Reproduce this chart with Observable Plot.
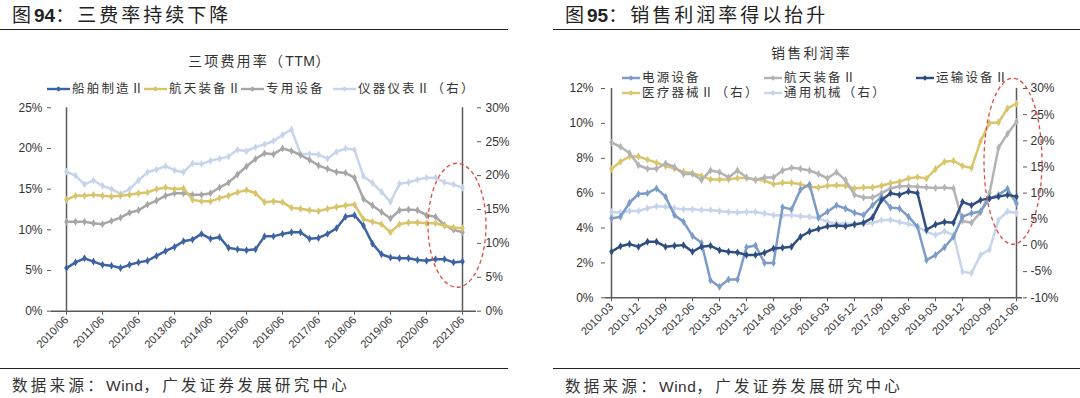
<!DOCTYPE html>
<html><head><meta charset="utf-8">
<script src="https://cdn.jsdelivr.net/npm/d3@7"></script>
<script src="https://cdn.jsdelivr.net/npm/@observablehq/plot@0.6"></script>
<style>
html,body{margin:0;padding:0;background:#fff}
body{width:1080px;height:398px;overflow:hidden;position:relative;font-family:"Noto Sans CJK SC","Liberation Sans",sans-serif;color:#222}
.abs{position:absolute;white-space:nowrap}
.title{font-size:19px;letter-spacing:3px;line-height:20px}
.title b{font-family:"Liberation Sans",Arial,sans-serif;font-weight:bold;letter-spacing:0}
.rule{position:absolute;height:0;border-top:1.4px solid #222}
.ctitle{font-size:14px;letter-spacing:2.2px;color:#333;line-height:16px}
.ctitle span{font-family:"Liberation Sans",Arial,sans-serif;letter-spacing:0.5px}
.leg{font-family:"Liberation Sans","Noto Sans CJK SC",sans-serif;font-size:12.5px;letter-spacing:2.2px;color:#333;line-height:13px;display:flex;align-items:center}
.leg svg{margin-right:2px}
.src{font-size:15.5px;letter-spacing:3.3px;color:#333;line-height:18px}
.src span{font-family:"Liberation Sans",Arial,sans-serif;letter-spacing:0.5px}
svg.plot{position:absolute;overflow:visible}
</style></head><body>
<div id="root"></div>
<script>
// ---------- data: left chart (三项费用率 TTM) ----------
const quartersL = ["2010/06","2010/09","2010/12","2011/03","2011/06","2011/09","2011/12","2012/03","2012/06","2012/09","2012/12","2013/03","2013/06","2013/09","2013/12","2014/03","2014/06","2014/09","2014/12","2015/03","2015/06","2015/09","2015/12","2016/03","2016/06","2016/09","2016/12","2017/03","2017/06","2017/09","2017/12","2018/03","2018/06","2018/09","2018/12","2019/03","2019/06","2019/09","2019/12","2020/03","2020/06","2020/09","2020/12","2021/03","2021/06"];
const tickLabelsL = ["2010/06","2011/06","2012/06","2013/06","2014/06","2015/06","2016/06","2017/06","2018/06","2019/06","2020/06","2021/06"];
const shipbuilding = [5.3,6.0,6.5,6.1,5.7,5.6,5.3,5.7,6.0,6.2,6.8,7.4,7.9,8.6,8.8,9.5,8.9,9.1,7.8,7.6,7.5,7.6,9.2,9.2,9.5,9.7,9.7,8.9,9.0,9.5,10.2,11.6,11.8,10.5,8.3,7.0,6.6,6.5,6.5,6.3,6.2,6.4,6.4,6.0,6.1];
const aerospaceL = [13.7,14.2,14.2,14.3,14.2,14.1,14.2,14.3,14.5,14.6,15.0,15.2,15.0,15.1,13.7,13.5,13.5,13.9,14.2,14.6,14.9,14.5,13.4,13.5,13.4,12.7,12.6,12.4,12.3,12.6,12.8,13.0,13.1,11.3,11.0,10.7,9.7,10.7,10.9,10.9,10.8,10.8,10.5,10.3,10.2];
const specialEquip = [11.0,11.0,11.0,10.8,10.7,11.1,11.5,12.1,12.4,13.1,13.6,14.2,14.5,14.5,14.3,14.3,14.5,15.2,15.8,16.8,17.8,18.7,19.4,19.3,20.0,19.7,19.2,18.6,17.9,17.5,17.1,17.0,16.4,13.8,13.0,12.2,11.4,12.4,12.5,12.4,11.8,11.6,10.6,10.0,9.7];
const instruments = [20.6,20.0,18.7,19.3,18.5,18.0,17.3,18.0,19.3,20.5,20.9,21.4,20.8,20.5,21.8,21.7,22.2,22.5,22.8,23.8,23.6,24.2,24.6,25.1,26.0,26.8,23.2,23.2,23.1,22.5,23.5,24.0,23.8,19.9,18.9,17.6,16.1,18.8,19.0,19.4,19.7,19.7,19.0,18.7,18.2]; // right axis
const leftTicksL = [0,5,10,15,20,25];
const rightTicksL = [0,5,10,15,20,25,30];

// ---------- data: right chart (销售利润率) ----------
const quartersR = ["2010-03","2010-06","2010-09","2010-12","2011-03","2011-06","2011-09","2011-12","2012-03","2012-06","2012-09","2012-12","2013-03","2013-06","2013-09","2013-12","2014-03","2014-06","2014-09","2014-12","2015-03","2015-06","2015-09","2015-12","2016-03","2016-06","2016-09","2016-12","2017-03","2017-06","2017-09","2017-12","2018-03","2018-06","2018-09","2018-12","2019-03","2019-06","2019-09","2019-12","2020-03","2020-06","2020-09","2020-12","2021-03","2021-06"];
const tickLabelsR = ["2010-03","2010-12","2011-09","2012-06","2013-03","2013-12","2014-09","2015-06","2016-03","2016-12","2017-09","2018-06","2019-03","2019-12","2020-09","2021-06"];
const powerEquip = [4.55,4.65,5.45,5.95,6.0,6.27,5.8,4.74,4.36,3.54,3.15,1.0,0.63,1.05,1.05,2.9,3.0,2.0,2.0,5.2,5.07,6.2,6.5,4.6,4.93,5.3,5.12,4.88,4.74,5.3,5.8,5.18,5.12,4.65,4.07,2.16,2.45,2.9,3.5,4.65,4.85,4.95,5.7,5.9,6.25,5.4];
const aerospaceR = [8.9,8.66,8.3,7.6,7.4,7.4,7.7,7.5,7.1,7.1,6.75,7.3,7.2,6.9,7.3,6.9,6.75,6.9,6.9,7.3,7.45,7.4,7.3,7.1,6.85,7.2,6.75,5.9,5.75,5.75,6.0,6.27,6.4,6.4,6.37,6.33,6.3,6.33,6.27,4.4,4.3,4.9,6.0,8.6,9.4,10.1];
const transportEquip = [2.64,2.96,3.08,2.93,3.21,3.21,2.93,2.98,3.02,2.64,2.93,2.98,2.73,2.64,2.6,2.45,2.45,2.58,2.83,2.87,2.93,3.5,3.8,3.95,4.1,4.15,4.1,4.2,4.3,4.6,5.6,6.0,5.9,6.1,6.0,3.9,4.2,4.35,4.3,5.5,5.3,5.6,5.7,5.8,5.9,5.8];
const medicalDevices = [14.6,16.0,17.0,17.0,16.4,15.8,15.2,14.7,14.1,13.8,13.3,12.6,12.6,12.6,12.9,12.9,12.6,12.4,11.7,12.0,12.0,11.7,11.2,11.1,11.4,11.5,11.4,10.9,11.1,11.1,11.4,11.9,12.2,12.8,13.1,12.8,14.6,16.0,16.2,15.2,14.8,19.9,23.4,23.5,26.2,27.1]; // right axis
const generalMachinery = [6.4,6.3,6.6,6.6,7.1,7.5,7.4,7.1,6.9,6.9,6.8,6.8,6.6,6.4,6.3,6.4,6.4,6.1,5.8,5.8,5.8,5.6,5.5,5.2,4.5,4.2,4.2,4.1,4.1,4.3,4.8,4.9,4.5,4.1,3.6,2.6,2.0,2.7,2.0,-5.0,-5.3,-1.8,-0.8,4.9,6.5,6.2]; // right axis
const leftTicksR = [0,2,4,6,8,10,12];
const rightTicksR = [-10,-5,0,5,10,15,20,25,30];

// ---------- helpers ----------
const root = document.getElementById("root");
function el(html){ const d=document.createElement("div"); d.innerHTML=html; const n=d.firstElementChild; root.appendChild(n); return n; }
function series(q, vals, name, conv){ return vals.map((v,i)=>({q:q[i], v: conv ? conv(v) : v, name})); }
function swatch(color, w){ return `<svg width="${w}" height="10"><line x1="0" y1="5" x2="${w}" y2="5" stroke="${color}" stroke-width="2.4"/><path d="M${w/2} 2.2 L${w/2+2.8} 5 L${w/2} 7.8 L${w/2-2.8} 5Z" fill="${color}"/></svg>`; }
function lineMarks(data, color){
  return [
    Plot.line(data, {x:"q", y:"v", stroke:color, strokeWidth:2.5, curve:"linear"}),
    Plot.dot(data, {x:"q", y:"v", fill:color, r:2.4, symbol:"diamond"})
  ];
}
const axisColor = "#5a5a5a";
const fontStyle = {fontFamily:"'Liberation Sans', Arial, sans-serif", fontSize:"12px", color:"#333", background:"transparent", overflow:"visible"};

// ---------- headers ----------
el(`<div class="abs title" style="left:12px;top:4px">图<b>94</b>：三费率持续下降</div>`);
el(`<div class="abs title" style="left:565px;top:4px">图<b>95</b>：销售利润率得以抬升</div>`);
el(`<div class="rule" style="left:0;top:28.5px;width:508px"></div>`);
el(`<div class="rule" style="left:553px;top:28.5px;width:527px"></div>`);
el(`<div class="rule" style="left:0;top:367.5px;width:508px"></div>`);
el(`<div class="rule" style="left:553px;top:367.5px;width:527px"></div>`);
el(`<div class="abs src" style="left:12px;top:375px">数据来源：<span>Wind</span>，广发证券发展研究中心</div>`);
el(`<div class="abs src" style="left:565px;top:376px">数据来源：<span>Wind</span>，广发证券发展研究中心</div>`);

// ---------- left chart ----------
const cL = {ship:"#3d63a3", aero:"#d8c46a", spec:"#a6a6a6", inst:"#c7d5ec"};
const toLeftL = v => v*25/30;
const chartL = Plot.plot({
  width:540, height:270,
  marginLeft:51, marginRight:64, marginTop:12.3, marginBottom:54.3,
  x:{type:"point", domain:quartersL, padding:0},
  y:{domain:[0,25]},
  style:fontStyle,
  marks:[
    Plot.axisY({ticks:leftTicksL, tickFormat:d=>d+"%", tickSize:4, tickPadding:5, label:null, stroke:axisColor}),
    Plot.axisY({anchor:"right", ticks:rightTicksL.map(toLeftL), tickFormat:d=>Math.round(d*30/25)+"%", tickSize:4, tickPadding:5, label:null, stroke:axisColor}),
    Plot.axisX({ticks:tickLabelsL, tickRotate:-45, tickSize:4, tickPadding:3, label:null, fontSize:11, stroke:axisColor}),
    Plot.ruleX([quartersL[0], quartersL[quartersL.length-1]], {stroke:axisColor, strokeWidth:1.5}),
    Plot.ruleY([0], {stroke:axisColor, strokeWidth:1.5}),
    ...lineMarks(series(quartersL, instruments, "仪器仪表Ⅱ（右）", toLeftL), cL.inst),
    ...lineMarks(series(quartersL, specialEquip, "专用设备"), cL.spec),
    ...lineMarks(series(quartersL, aerospaceL, "航天装备Ⅱ"), cL.aero),
    ...lineMarks(series(quartersL, shipbuilding, "船舶制造Ⅱ"), cL.ship)
  ]
});
chartL.classList.add("plot");
chartL.style.left="0px"; chartL.style.top="95px";
root.appendChild(chartL);
{
  const xs = chartL.scale("x"), ys = chartL.scale("y");
  d3.select(chartL).append("ellipse")
    .attr("cx", xs.apply(quartersL[quartersL.length-1]) - 5)
    .attr("cy", ys.apply(10.5))
    .attr("rx", 29).attr("ry", 62)
    .attr("fill","none").attr("stroke","#e04a40").attr("stroke-width",1.3).attr("stroke-dasharray","4,3");
}
el(`<div class="abs ctitle" style="left:188px;top:52px">三项费用率（<span>TTM</span>）</div>`);
const legL = [["船舶制造Ⅱ",cL.ship,47],["航天装备Ⅱ",cL.aero,144],["专用设备",cL.spec,241],["仪器仪表Ⅱ（右）",cL.inst,333]];
legL.forEach(([t,c,x])=>el(`<div class="abs leg" style="left:${x}px;top:82.5px">${swatch(c,23)}${t}</div>`));

// ---------- right chart ----------
const cR = {power:"#7d9bc9", aero:"#b3b3b3", trans:"#2f4e80", med:"#dbc56c", gen:"#c6d5eb"};
const toLeftR = v => (v+10)*12/40;
const chartR = Plot.plot({
  width:540, height:290,
  marginLeft:65, marginRight:58, marginTop:18, marginBottom:62.7,
  x:{type:"point", domain:quartersR, padding:0},
  y:{domain:[0,12]},
  style:fontStyle,
  marks:[
    Plot.axisY({ticks:leftTicksR, tickFormat:d=>d+"%", tickSize:4, tickPadding:8, label:null, stroke:axisColor}),
    Plot.axisY({anchor:"right", ticks:rightTicksR.map(toLeftR), tickFormat:d=>Math.round(d*40/12-10)+"%", tickSize:4, tickPadding:4, label:null, stroke:axisColor}),
    Plot.axisX({ticks:tickLabelsR, tickRotate:-45, tickSize:4, tickPadding:3, label:null, fontSize:11, stroke:axisColor}),
    Plot.ruleX([quartersR[0], quartersR[quartersR.length-1]], {stroke:axisColor, strokeWidth:1.5}),
    Plot.ruleY([0], {stroke:axisColor, strokeWidth:1.5}),
    ...lineMarks(series(quartersR, generalMachinery, "通用机械（右）", toLeftR), cR.gen),
    ...lineMarks(series(quartersR, medicalDevices, "医疗器械Ⅱ（右）", toLeftR), cR.med),
    ...lineMarks(series(quartersR, aerospaceR, "航天装备Ⅱ"), cR.aero),
    ...lineMarks(series(quartersR, powerEquip, "电源设备"), cR.power),
    ...lineMarks(series(quartersR, transportEquip, "运输设备Ⅱ"), cR.trans)
  ]
});
chartR.classList.add("plot");
chartR.style.left="540px"; chartR.style.top="70px";
root.appendChild(chartR);
{
  const xs = chartR.scale("x"), ys = chartR.scale("y");
  d3.select(chartR).append("ellipse")
    .attr("cx", xs.apply(quartersR[quartersR.length-1]) - 3)
    .attr("cy", ys.apply(7.8))
    .attr("rx", 29).attr("ry", 83)
    .attr("fill","none").attr("stroke","#e04a40").attr("stroke-width",1.3).attr("stroke-dasharray","4,3");
}
el(`<div class="abs ctitle" style="left:771px;top:44px">销售利润率</div>`);
const legR = [["电源设备",cR.power,622,71.5],["航天装备Ⅱ",cR.aero,764,71.5],["运输设备Ⅱ",cR.trans,916,71.5],["医疗器械Ⅱ（右）",cR.med,622,86.5],["通用机械（右）",cR.gen,764,86.5]];
legR.forEach(([t,c,x,y])=>el(`<div class="abs leg" style="left:${x}px;top:${y}px">${swatch(c,18)}${t}</div>`));
</script>
</body></html>
